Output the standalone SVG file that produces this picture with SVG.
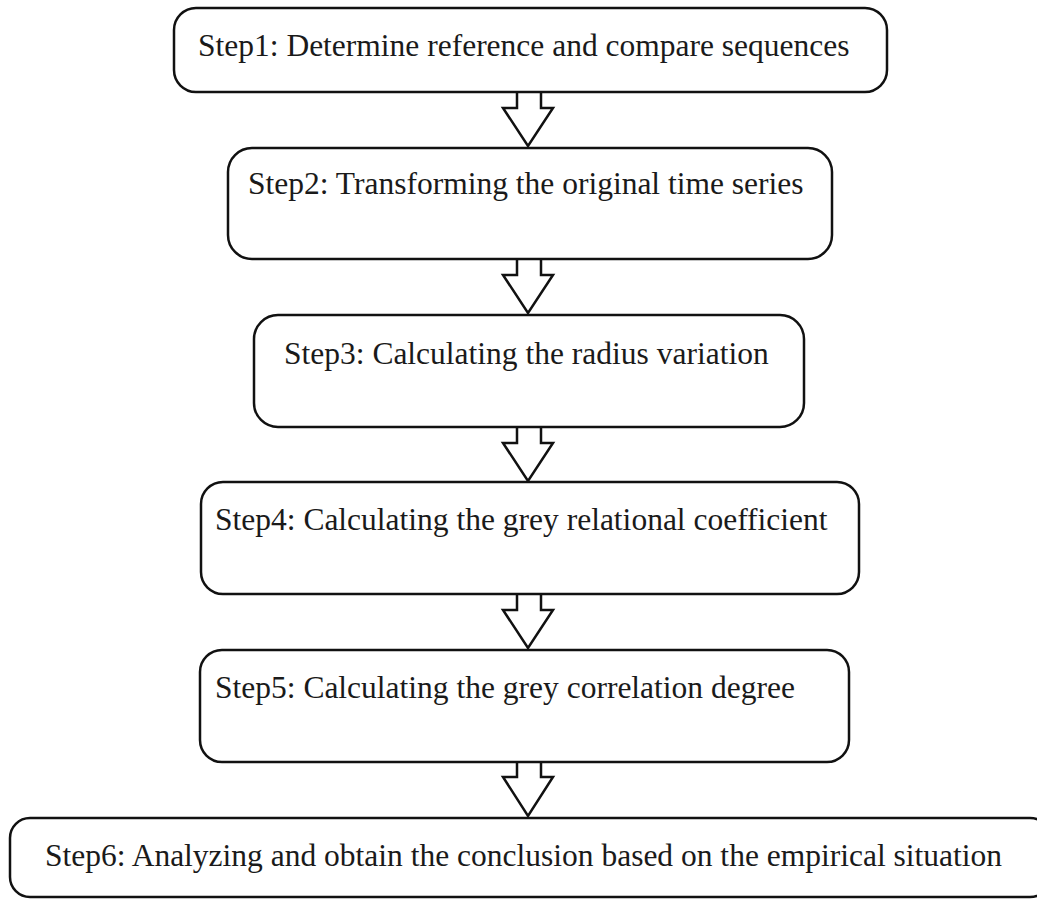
<svg xmlns="http://www.w3.org/2000/svg" width="1037" height="899" viewBox="0 0 1037 899">
<style>
.box{fill:#fff;stroke:#111;stroke-width:2.5}
.arr{fill:#fff;stroke:#111;stroke-width:2.5;stroke-linejoin:miter}
.lbl{font-family:"Liberation Serif","Times New Roman",serif;font-size:31.5px;fill:#1a1a1a}
</style>
<rect width="1037" height="899" fill="#fff"/>
<g id="connectors">
<path class="arr" d="M517,92 V108 H503 L528,146 L553,108 H541 V92"/>
<path class="arr" d="M517,259 V275 H503 L528,313 L553,275 H541 V259"/>
<path class="arr" d="M517,427 V443 H503 L528,481 L553,443 H541 V427"/>
<path class="arr" d="M517,594 V610 H503 L528,648 L553,610 H541 V594"/>
<path class="arr" d="M517,762 V777 H503 L528,816 L553,777 H541 V762"/>
</g>
<g id="step1">
<rect class="box" x="174" y="8" width="713" height="84" rx="22"/>
<text class="lbl" x="198" y="56">Step1: Determine reference and compare sequences</text>
</g>
<g id="step2">
<rect class="box" x="228" y="148" width="604" height="111" rx="24"/>
<text class="lbl" x="248" y="194">Step2: Transforming the original time series</text>
</g>
<g id="step3">
<rect class="box" x="254" y="315" width="550" height="112" rx="24"/>
<text class="lbl" x="284" y="364">Step3: Calculating the radius variation</text>
</g>
<g id="step4">
<rect class="box" x="201" y="482" width="658" height="112" rx="22"/>
<text class="lbl" x="215" y="530">Step4: Calculating the grey relational coefficient</text>
</g>
<g id="step5">
<rect class="box" x="200" y="650" width="649" height="112" rx="22"/>
<text class="lbl" x="215" y="698">Step5: Calculating the grey correlation degree</text>
</g>
<g id="step6">
<rect class="box" x="10" y="818" width="1040" height="79" rx="20"/>
<text class="lbl" x="45" y="866">Step6: Analyzing and obtain the conclusion based on the empirical situation</text>
</g>
</svg>
